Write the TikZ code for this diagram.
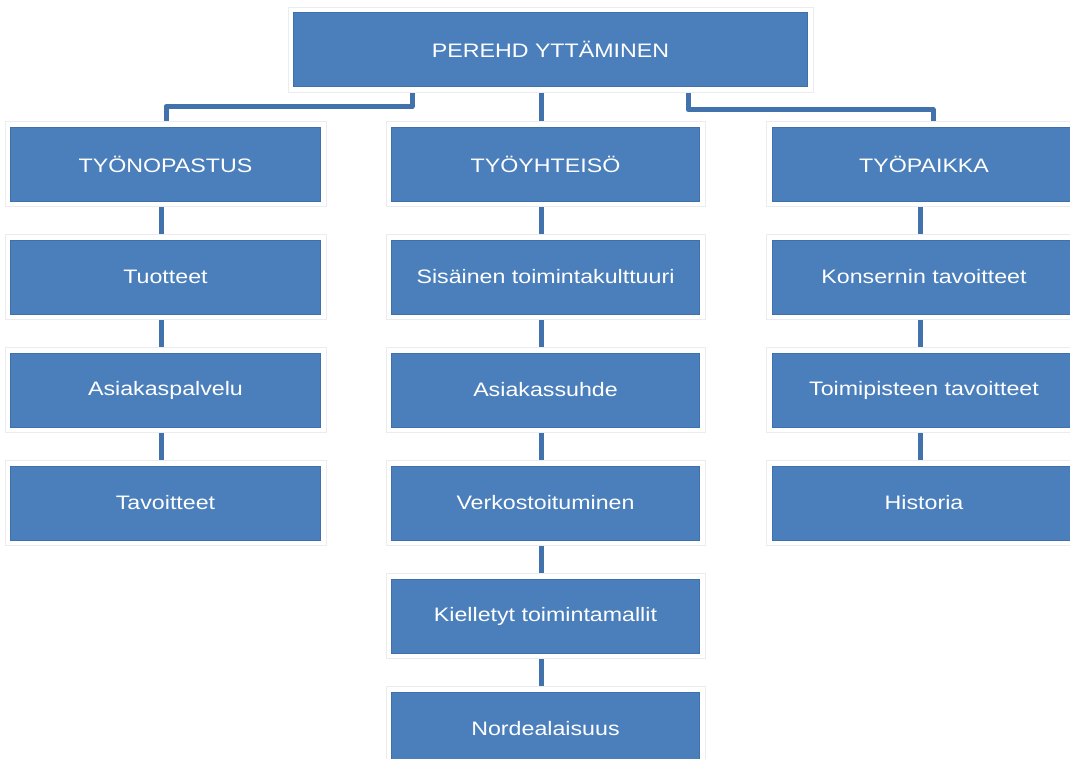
\documentclass[tikz,border=0pt]{standalone}
\usepackage{fontspec}
\setmainfont{Liberation Sans}
\usetikzlibrary{backgrounds}

\definecolor{boxblue}{RGB}{74,127,188}
\definecolor{boxedge}{RGB}{64,112,170}
\definecolor{linkblue}{RGB}{66,114,172}
\definecolor{haloedge}{RGB}{234,236,240}

% text is set slightly wider than the font's natural width
\newcommand{\widetxt}[1]{\scalebox{1.19}[1]{#1}}

\tikzset{
  orgbox/.style={rectangle, fill=boxblue, draw=boxedge, line width=0.8pt,
    minimum height=74pt, text=white, inner sep=0pt,
    font=\fontsize{19.5}{22}\selectfont,
    preaction={draw=haloedge, line width=12pt},
    preaction={draw=white, line width=10pt}},
  colL/.style={orgbox, minimum width=310pt},
  colM/.style={orgbox, minimum width=308pt},
  colR/.style={orgbox, minimum width=304pt},
  conn/.style={draw=linkblue, line width=5pt, line join=round}
}

\begin{document}
\begin{tikzpicture}[x=1pt, y=-1pt]
\clip (0,0) rectangle (1070,758);

% root
\node[orgbox, minimum width=514pt] (top) at (550.5,49.5) {\widetxt{PEREHD YTTÄMINEN}};

% left column
\node[colL] (L1) at (165.5,164) {\widetxt{TYÖNOPASTUS}};
\node[colL] (L2) at (165.5,277) {\widetxt{Tuotteet}};
\node[colL] (L3) at (165.5,390) {\widetxt{Asiakaspalvelu}};
\node[colL] (L4) at (165.5,503) {\widetxt{Tavoitteet}};

% middle column
\node[colM] (M1) at (545.5,164) {\widetxt{TYÖYHTEISÖ}};
\node[colM] (M2) at (545.5,277) {\widetxt{Sisäinen toimintakulttuuri}};
\node[colM] (M3) at (545.5,390) {\widetxt{Asiakassuhde}};
\node[colM] (M4) at (545.5,503) {\widetxt{Verkostoituminen}};
\node[colM] (M5) at (545.5,616) {\widetxt{Kielletyt toimintamallit}};
\node[colM] (M6) at (545.5,729) {\widetxt{Nordealaisuus}};

% right column
\node[colR] (R1) at (924,164) {\widetxt{TYÖPAIKKA}};
\node[colR] (R2) at (924,277) {\widetxt{Konsernin tavoitteet}};
\node[colR] (R3) at (924,390) {\widetxt{Toimipisteen tavoitteet}};
\node[colR] (R4) at (924,503) {\widetxt{Historia}};

\coordinate (jl) at (166,106.5);
\coordinate (jr) at (933,109.5);

\begin{pgfonlayer}{background}
  \fill[white] (0,0) rectangle (1070,758);
  % root to the three branches
  \draw[conn] ([xshift=-138.5pt]top.south) |- (jl) -- (jl |- L1.north);
  \draw[conn] ([xshift=-9.5pt]top.south) -- ([xshift=-4.5pt]M1.north);
  \draw[conn] ([xshift=137.5pt]top.south) |- (jr) -- (jr |- R1.north);
  % column chains
  \foreach \a/\b in {L1/L2, L2/L3, L3/L4, M1/M2, M2/M3, M3/M4, M4/M5, M5/M6}
    \draw[conn] ([xshift=-4.5pt]\a.south) -- ([xshift=-4.5pt]\b.north);
  \foreach \a/\b in {R1/R2, R2/R3, R3/R4}
    \draw[conn] ([xshift=-4pt]\a.south) -- ([xshift=-4pt]\b.north);
\end{pgfonlayer}
\end{tikzpicture}
\end{document}
